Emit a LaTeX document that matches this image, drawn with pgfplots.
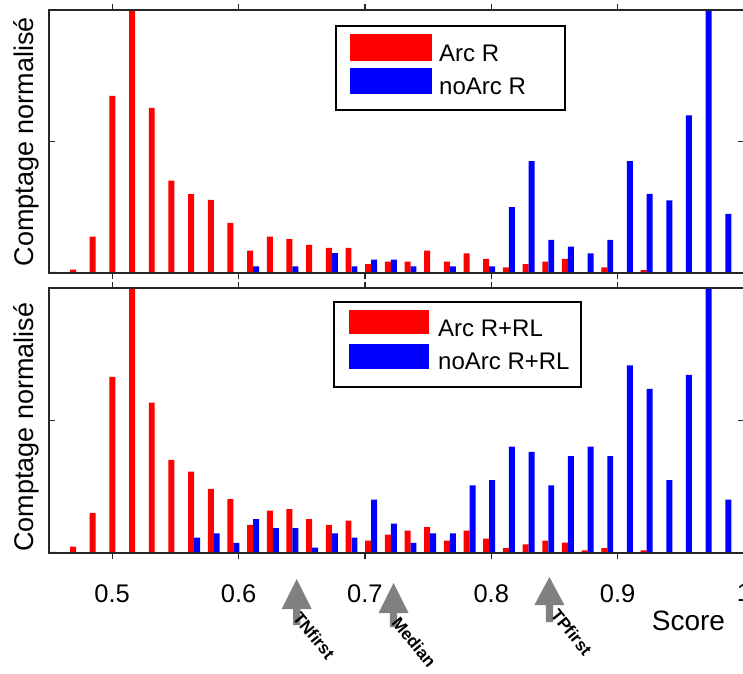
\documentclass[border=0pt]{standalone}
\usepackage{fontspec}
\setmainfont{Liberation Sans}
\usepackage{pgfplots}
\usepackage{pgfplotstable}
\pgfplotsset{compat=1.18}

\definecolor{axisgray}{RGB}{38,38,38}
\definecolor{arrowgray}{RGB}{128,128,128}

% bin centre, top panel (R), bottom panel (R+RL)
\pgfplotstableread{
x      r1    b1    r2    b2
0.4558 0.004 0.003 0.004 0.003
0.4714 0.013 0.003 0.024 0.003
0.4869 0.138 0.003 0.151 0.003
0.5025 0.673 0.003 0.665 0.003
0.5181 1.000 0.003 1.000 0.003
0.5337 0.628 0.003 0.567 0.003
0.5492 0.351 0.003 0.351 0.003
0.5648 0.300 0.003 0.307 0.058
0.5804 0.278 0.003 0.242 0.074
0.5959 0.191 0.003 0.203 0.038
0.6115 0.085 0.025 0.106 0.128
0.6271 0.138 0.003 0.160 0.094
0.6426 0.129 0.025 0.166 0.094
0.6582 0.107 0.003 0.128 0.020
0.6738 0.096 0.076 0.106 0.074
0.6894 0.096 0.025 0.122 0.058
0.7049 0.034 0.051 0.047 0.201
0.7205 0.043 0.051 0.069 0.111
0.7361 0.043 0.025 0.084 0.038
0.7516 0.085 0.003 0.098 0.074
0.7672 0.043 0.025 0.047 0.074
0.7828 0.075 0.003 0.084 0.255
0.7983 0.054 0.025 0.054 0.275
0.8139 0.021 0.250 0.018 0.401
0.8295 0.034 0.425 0.033 0.382
0.8451 0.043 0.126 0.047 0.255
0.8606 0.054 0.100 0.039 0.366
0.8762 0.003 0.075 0.010 0.401
0.8918 0.021 0.126 0.018 0.366
0.9073 0.003 0.425 0.003 0.708
0.9229 0.011 0.301 0.010 0.619
0.9385 0.003 0.276 0.003 0.275
0.9540 0.003 0.599 0.003 0.672
0.9696 0.003 1.000 0.003 1.000
0.9852 0.003 0.225 0.003 0.201
}\histdata

\pgfplotsset{
  histaxis/.style={
    scale only axis, width=695pt,
    xmin=0.45, xmax=1.0, ymin=0, ymax=1,
    axis on top, clip=false,
    axis line style={draw=axisgray, line width=1.3pt},
    xtick={0.5,0.6,0.7,0.8,0.9,1.0},
    ytick={0.5}, yticklabels={},
    tick align=inside, major tick length=6pt,
    tick style={draw=axisgray, line width=1.2pt},
    ybar, bar width=0.0047,
    ylabel={Comptage normalisé},
    ylabel style={anchor=base, inner sep=0pt, font=\fontsize{27}{30}\selectfont},
  },
  redbar/.style={fill=red, draw=none, bar shift=-0.00237},
  bluebar/.style={fill=blue, draw=none, bar shift=0.00237},
}
\tikzset{
  legtext/.style={anchor=base west, inner sep=0pt, font=\fontsize{24}{28}\selectfont},
  anntext/.style={rotate=-51, anchor=north west, inner sep=0pt, font=\bfseries\fontsize{17}{20}\selectfont},
}

\begin{document}
\begin{tikzpicture}
\useasboundingbox (0pt,0pt) rectangle (743pt,673pt);
% ---------- top panel ----------
\begin{axis}[histaxis, height=263pt,
  at={(49pt,400pt)}, anchor=south west,
  xticklabels={},
  ylabel style={at={(axis description cs:-0.0216,0.5)}},
]
\addplot[redbar] table[x=x, y=r1] {\histdata};
\addplot[bluebar] table[x=x, y=b1] {\histdata};
% legend
\fill[white] ([xshift=287pt,yshift=-16pt]rel axis cs:0,1) rectangle ([xshift=516pt,yshift=-100pt]rel axis cs:0,1);
\fill[red]  ([xshift=301pt,yshift=-24pt]rel axis cs:0,1) rectangle ([xshift=383pt,yshift=-51pt]rel axis cs:0,1);
\fill[blue] ([xshift=301pt,yshift=-58pt]rel axis cs:0,1) rectangle ([xshift=383pt,yshift=-84pt]rel axis cs:0,1);
\node[legtext] at ([xshift=390pt,yshift=-51.7pt]rel axis cs:0,1) {Arc R};
\node[legtext] at ([xshift=390pt,yshift=-84.3pt]rel axis cs:0,1) {noArc R};
\draw[black, line width=1.4pt] ([xshift=287pt,yshift=-16pt]rel axis cs:0,1) rectangle ([xshift=516pt,yshift=-100pt]rel axis cs:0,1);
\end{axis}

% ---------- bottom panel ----------
\begin{axis}[histaxis, height=265pt,
  at={(49pt,120pt)}, anchor=south west,
  xticklabels={0.5,0.6,0.7,0.8,0.9,1},
  xticklabel style={font=\fontsize{25.5}{28}\selectfont, inner sep=0pt, yshift=-25pt},
  ylabel style={at={(axis description cs:-0.0216,0.475)}},
]
\addplot[redbar] table[x=x, y=r2] {\histdata};
\addplot[bluebar] table[x=x, y=b2] {\histdata};
% legend
\fill[white] ([xshift=285pt,yshift=-14pt]rel axis cs:0,1) rectangle ([xshift=532pt,yshift=-99pt]rel axis cs:0,1);
\fill[red]  ([xshift=300pt,yshift=-22pt]rel axis cs:0,1) rectangle ([xshift=380pt,yshift=-46pt]rel axis cs:0,1);
\fill[blue] ([xshift=300pt,yshift=-56pt]rel axis cs:0,1) rectangle ([xshift=380pt,yshift=-81pt]rel axis cs:0,1);
\node[legtext] at ([xshift=389pt,yshift=-48.7pt]rel axis cs:0,1) {Arc R+RL};
\node[legtext] at ([xshift=389pt,yshift=-81pt]rel axis cs:0,1) {noArc R+RL};
\draw[black, line width=1.4pt] ([xshift=285pt,yshift=-14pt]rel axis cs:0,1) rectangle ([xshift=532pt,yshift=-99pt]rel axis cs:0,1);

\node[font=\fontsize{28}{32}\selectfont] at ([yshift=-68pt]axis cs:0.956,0) {Score};

\fill[arrowgray]
  ([xshift=-15pt,yshift=-56pt]axis cs:0.646,0) -- ([yshift=-26pt]axis cs:0.646,0) --
  ([xshift=15pt,yshift=-56pt]axis cs:0.646,0) -- ([xshift=3.6pt,yshift=-56pt]axis cs:0.646,0) --
  ([xshift=3.6pt,yshift=-72pt]axis cs:0.646,0) -- ([xshift=-3.6pt,yshift=-72pt]axis cs:0.646,0) --
  ([xshift=-3.6pt,yshift=-56pt]axis cs:0.646,0) -- cycle;
\fill[arrowgray]
  ([xshift=-15pt,yshift=-60pt]axis cs:0.7227,0) -- ([yshift=-30pt]axis cs:0.7227,0) --
  ([xshift=15pt,yshift=-60pt]axis cs:0.7227,0) -- ([xshift=3.6pt,yshift=-60pt]axis cs:0.7227,0) --
  ([xshift=3.6pt,yshift=-74pt]axis cs:0.7227,0) -- ([xshift=-3.6pt,yshift=-74pt]axis cs:0.7227,0) --
  ([xshift=-3.6pt,yshift=-60pt]axis cs:0.7227,0) -- cycle;
\fill[arrowgray]
  ([xshift=-15pt,yshift=-52pt]axis cs:0.846,0) -- ([yshift=-24pt]axis cs:0.846,0) --
  ([xshift=15pt,yshift=-52pt]axis cs:0.846,0) -- ([xshift=3.6pt,yshift=-52pt]axis cs:0.846,0) --
  ([xshift=3.6pt,yshift=-69pt]axis cs:0.846,0) -- ([xshift=-3.6pt,yshift=-69pt]axis cs:0.846,0) --
  ([xshift=-3.6pt,yshift=-52pt]axis cs:0.846,0) -- cycle;

\node[anntext] at ([xshift=5pt,yshift=-57pt]axis cs:0.646,0) {TNfirst};
\node[anntext] at ([xshift=7pt,yshift=-62pt]axis cs:0.7227,0) {Median};
\node[anntext] at ([xshift=10pt,yshift=-54pt]axis cs:0.846,0) {TPfirst};
\end{axis}
\end{tikzpicture}
\end{document}
